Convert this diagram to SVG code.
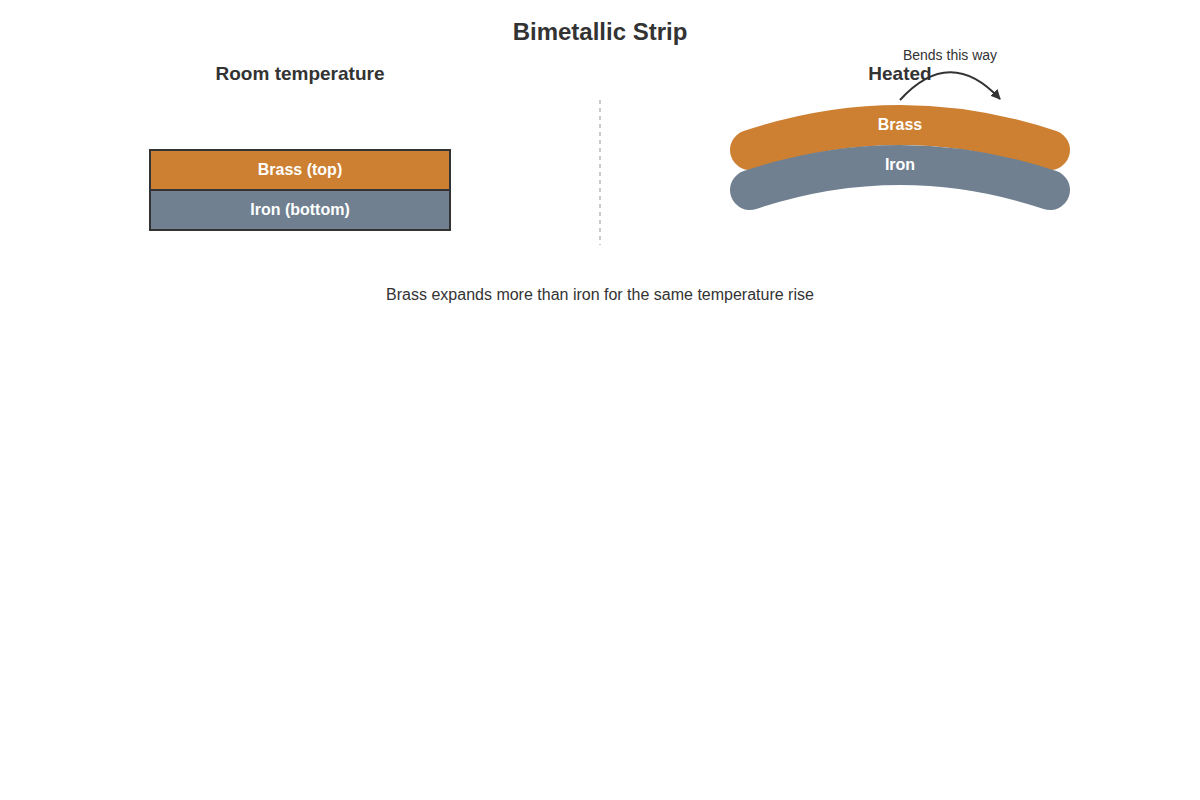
<svg xmlns="http://www.w3.org/2000/svg" width="1200" height="800" viewBox="0 0 1200 800">
<style>
text{font-family:"Liberation Sans",Arial,sans-serif;text-anchor:middle}
.h{font-size:19px;font-weight:bold;fill:#333}
.w{font-size:16px;font-weight:bold;fill:#fff}
.s{font-size:16px;fill:#333}
</style>
<defs><marker id="ah" markerWidth="10" markerHeight="10" refX="9" refY="5" orient="auto" markerUnits="userSpaceOnUse" viewBox="0 0 10 10"><path d="M0,0 L10,5 L0,10 Z" fill="#333"/></marker></defs>
<rect width="1200" height="800" fill="#fff"/>
<text x="600" y="40" style="font-size:24px;font-weight:bold;fill:#333">Bimetallic Strip</text>
<text class="h" x="300" y="80">Room temperature</text>
<line x1="600" y1="100" x2="600" y2="245" stroke="#bbb" stroke-width="1.5" stroke-dasharray="4,4"/>
<g id="brass-top"><rect x="150" y="150" width="300" height="40" fill="#cd7f32" stroke="#333" stroke-width="2"/><text class="w" x="300" y="175">Brass (top)</text></g>
<g id="iron-bottom"><rect x="150" y="190" width="300" height="40" fill="#708090" stroke="#333" stroke-width="2"/><text class="w" x="300" y="215">Iron (bottom)</text></g>
<g id="brass-heated"><path d="M750,150 Q900,100 1050,150" fill="none" stroke="#cd7f32" stroke-width="40" stroke-linecap="round"/></g>
<g id="iron-heated"><path d="M750,190 Q900,140 1050,190" fill="none" stroke="#708090" stroke-width="40" stroke-linecap="round"/></g>
<text class="w" x="900" y="130">Brass</text>
<text class="w" x="900" y="170">Iron</text>
<text class="h" x="900" y="80">Heated</text>
<g id="connectors"><path d="M900,100 Q950,45 1000,99" fill="none" stroke="#333" stroke-width="2" marker-end="url(#ah)"/></g>
<text x="950" y="60" style="font-size:14px;fill:#333">Bends this way</text>
<text class="s" x="600" y="300">Brass expands more than iron for the same temperature rise</text>
</svg>
